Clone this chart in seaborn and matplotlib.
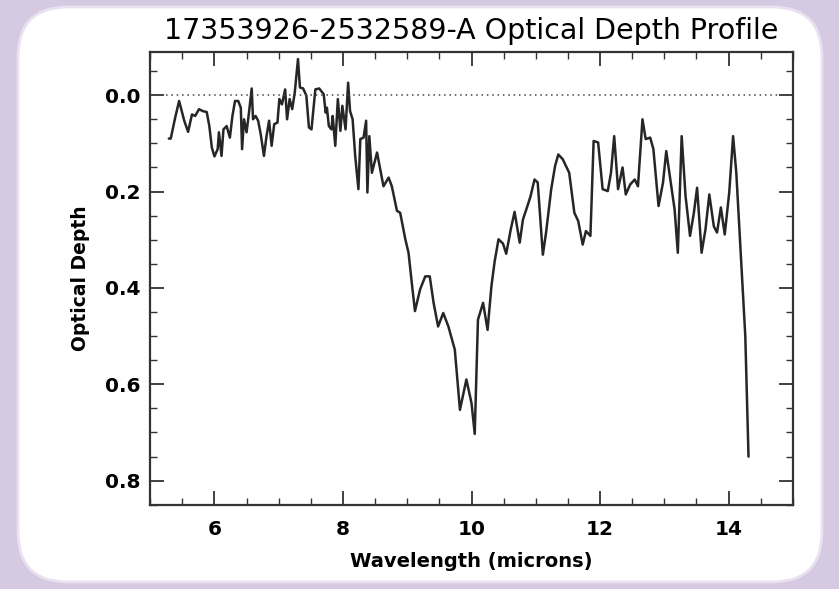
import matplotlib
matplotlib.use('Agg')
import matplotlib.pyplot as plt
from matplotlib.patches import FancyBboxPatch
from matplotlib.ticker import MultipleLocator
import seaborn as sns
import pandas as pd

# ---- data ----
wavelength = [5.29, 5.32, 5.39, 5.45, 5.53, 5.59, 5.65, 5.70, 5.76, 5.82, 5.88, 5.92,
              5.96, 6.00, 6.05, 6.07, 6.11, 6.14, 6.19, 6.24, 6.28, 6.32, 6.37, 6.41,
              6.43, 6.46, 6.50, 6.54, 6.58, 6.60, 6.64, 6.68, 6.72, 6.77, 6.81, 6.85,
              6.89, 6.93, 6.98, 7.01, 7.05, 7.10, 7.13, 7.17, 7.21, 7.25, 7.30, 7.33,
              7.38, 7.43, 7.47, 7.51, 7.57, 7.63, 7.70, 7.73, 7.75, 7.78, 7.82, 7.84,
              7.88, 7.92, 7.96, 7.99, 8.04, 8.08, 8.11, 8.15, 8.19, 8.24, 8.27, 8.32,
              8.36, 8.38, 8.41, 8.45, 8.49, 8.53, 8.58, 8.63, 8.71, 8.76, 8.84, 8.89,
              8.97, 9.02, 9.07, 9.12, 9.20, 9.28, 9.35, 9.41, 9.48, 9.56, 9.64, 9.74,
              9.82, 9.92, 10.00, 10.05, 10.10, 10.18, 10.25, 10.31, 10.36, 10.42, 10.49,
              10.54, 10.61, 10.67, 10.75, 10.80, 10.87, 10.92, 10.98, 11.03, 11.11,
              11.16, 11.24, 11.30, 11.35, 11.42, 11.52, 11.60, 11.66, 11.73, 11.78,
              11.85, 11.90, 11.97, 12.04, 12.12, 12.17, 12.22, 12.28, 12.35, 12.40,
              12.47, 12.54, 12.59, 12.66, 12.71, 12.78, 12.83, 12.91, 12.98, 13.03,
              13.10, 13.16, 13.21, 13.27, 13.33, 13.40, 13.46, 13.51, 13.58, 13.64,
              13.70, 13.77, 13.82, 13.88, 13.94, 14.01, 14.07, 14.12, 14.26, 14.31]

optical_depth = [0.090, 0.090, 0.046, 0.012, 0.053, 0.076, 0.040, 0.043, 0.029, 0.033, 0.035, 0.064,
                 0.109, 0.127, 0.112, 0.077, 0.126, 0.071, 0.064, 0.088, 0.043, 0.012, 0.012, 0.026,
                 0.112, 0.050, 0.077, 0.033, -0.014, 0.050, 0.043, 0.053, 0.081, 0.126, 0.085, 0.053,
                 0.105, 0.060, 0.057, 0.008, 0.019, -0.012, 0.050, 0.008, 0.029, -0.006, -0.075, -0.016,
                 -0.014, 0.001, 0.067, 0.071, -0.012, -0.014, -0.002, 0.036, 0.026, 0.064, 0.071, 0.043,
                 0.105, 0.008, 0.074, 0.022, 0.071, -0.026, 0.033, 0.050, 0.126, 0.195, 0.091, 0.088,
                 0.053, 0.202, 0.085, 0.161, 0.140, 0.119, 0.154, 0.189, 0.171, 0.189, 0.240, 0.244,
                 0.299, 0.327, 0.389, 0.448, 0.403, 0.376, 0.376, 0.431, 0.480, 0.452, 0.480, 0.528,
                 0.653, 0.590, 0.639, 0.703, 0.466, 0.431, 0.487, 0.396, 0.345, 0.299, 0.308,
                 0.329, 0.279, 0.242, 0.306, 0.258, 0.230, 0.209, 0.175, 0.181, 0.331,
                 0.285, 0.195, 0.147, 0.123, 0.133, 0.161, 0.244, 0.261, 0.310, 0.282,
                 0.292, 0.095, 0.098, 0.195, 0.199, 0.161, 0.085, 0.195, 0.150, 0.206,
                 0.185, 0.175, 0.189, 0.050, 0.091, 0.088, 0.112, 0.230, 0.181, 0.116,
                 0.181, 0.237, 0.327, 0.085, 0.209, 0.292, 0.244, 0.192, 0.327, 0.279,
                 0.206, 0.272, 0.285, 0.233, 0.289, 0.202, 0.085, 0.161, 0.500, 0.750]

df = pd.DataFrame({'wavelength': wavelength, 'tau': optical_depth})

# ---- figure ----
sns.set_theme(style='white')
plt.rcParams['font.family'] = ['DejaVu Sans']
plt.rcParams['text.color'] = 'black'
plt.rcParams['axes.labelcolor'] = 'black'
plt.rcParams['xtick.color'] = 'black'
plt.rcParams['ytick.color'] = 'black'

fig = plt.figure(figsize=(8.39, 5.89), dpi=100)
fig.patch.set_facecolor('#d6c9e2')

# white rounded panel behind the plot (pixel coords)
panel = FancyBboxPatch((18, 7), 804, 575, boxstyle='round,pad=0,rounding_size=50',
                       transform=None, facecolor='white', edgecolor='#e9e1f0', lw=2, zorder=0)
fig.add_artist(panel)

ax = fig.add_axes([0.179, 0.143, 0.766, 0.769])
ax.set_facecolor('white')

sns.lineplot(data=df, x='wavelength', y='tau', sort=False, estimator=None,
             color='#262626', lw=1.8, ax=ax)
ax.axhline(0, ls=(0, (1, 2.5)), color='#444444', lw=1.1)

ax.set_xlim(5, 15)
ax.set_ylim(0.85, -0.09)

ax.xaxis.set_major_locator(MultipleLocator(2))
ax.xaxis.set_minor_locator(MultipleLocator(0.5))
ax.yaxis.set_major_locator(MultipleLocator(0.2))
ax.yaxis.set_minor_locator(MultipleLocator(0.05))
ax.yaxis.set_major_formatter(plt.FuncFormatter(lambda v, p: f'{abs(v):.1f}' if abs(v) < 1e-9 else f'{v:.1f}'))

ax.tick_params(which='both', direction='in', bottom=True, left=True, top=True, right=True,
               color='#333333')
ax.tick_params(which='major', length=10, width=1.3, labelsize=14.5, pad=7)
ax.tick_params(axis='x', which='major', pad=11)
ax.tick_params(which='minor', length=5, width=1.0)
for lab in ax.get_xticklabels() + ax.get_yticklabels():
    lab.set_fontweight('bold')

for s in ax.spines.values():
    s.set_color('#333333')
    s.set_linewidth(1.6)

ax.set_title('17353926-2532589-A Optical Depth Profile', fontsize=20.5, pad=9)
ax.set_xlabel('Wavelength (microns)', fontsize=14, fontweight='bold', labelpad=9)
ax.set_ylabel('Optical Depth', fontsize=13.5, fontweight='bold')
ax.yaxis.set_label_coords(-0.094, 0.5)

plt.savefig('out.png', dpi=100)
